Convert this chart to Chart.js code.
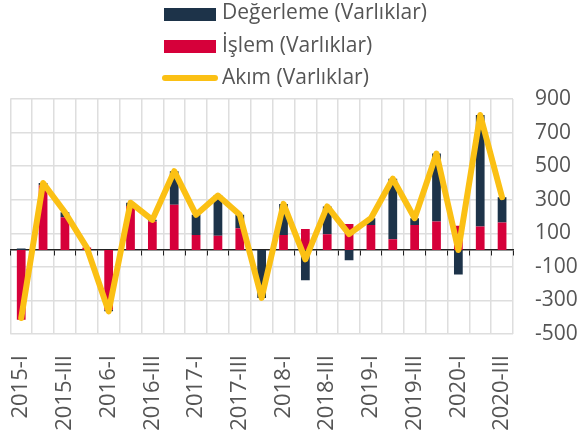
<!DOCTYPE html>
<html>
<head>
<meta charset="utf-8">
<script src="https://cdn.jsdelivr.net/npm/chart.js@4/dist/chart.umd.min.js"></script>
<style>
html,body{margin:0;padding:0;background:#fff;}
#wrap{position:relative;width:577px;height:432px;overflow:hidden;}
#c{position:absolute;left:0;top:0;}
.lg{position:absolute;font-family:'Open Sans',sans-serif;font-size:21px;color:#555;line-height:21px;white-space:nowrap;}
.sw{position:absolute;}
</style>
</head>
<body>
<div id="wrap">
<canvas id="c" width="577" height="432"></canvas>
<div class="sw" style="left:164px;top:8px;width:52px;height:13px;background:#1d3349"></div>
<div class="lg" style="left:222px;top:1px">Değerleme (Varlıklar)</div>
<div class="sw" style="left:164px;top:40px;width:52px;height:13px;background:#d6003a"></div>
<div class="lg" style="left:222px;top:34px">İşlem (Varlıklar)</div>
<div class="sw" style="left:162px;top:75px;width:56px;height:6px;border-radius:3px;background:#fbc014"></div>
<div class="lg" style="left:222px;top:66px">Akım (Varlıklar)</div>
</div>
<script>
const categories = ['2015-I','2015-II','2015-III','2015-IV','2016-I','2016-II','2016-III','2016-IV','2017-I','2017-II','2017-III','2017-IV','2018-I','2018-II','2018-III','2018-IV','2019-I','2019-II','2019-III','2019-IV','2020-I','2020-II','2020-III'];
const islem = [-415, 385, 195, 15, -355, 262, 170, 270, 90, 85, 130, 0, 90, 125, 95, 155, 150, 65, 150, 170, 145, 140, 165];
const degerleme = [10, 15, 30, 0, -10, 20, 10, 200, 120, 240, 80, -285, 185, -180, 165, -60, 40, 360, 40, 405, -145, 665, 150];
const akim = [-405, 400, 225, 15, -365, 282, 180, 470, 210, 325, 210, -285, 275, -55, 260, 95, 190, 425, 190, 575, 0, 805, 315];
const yMin = -500, yMax = 900, yStep = 200;

const NAVY = '#1d3349', RED = '#d6003a', YELLOW = '#fbc014';
const GRID = '#dedede', TEXT = '#555555';

Chart.defaults.font.family = "'Open Sans', sans-serif";
Chart.defaults.font.size = 21;
Chart.defaults.color = TEXT;

new Chart(document.getElementById('c'), {
  type: 'bar',
  data: {
    labels: categories,
    datasets: [
      { type: 'line', label: 'Akım (Varlıklar)', data: akim, borderColor: YELLOW, backgroundColor: YELLOW,
        borderWidth: 6, pointRadius: 0, pointHoverRadius: 0, tension: 0, fill: false,
        borderJoinStyle: 'round', borderCapStyle: 'round', stack: 'akim' },
      { label: 'İşlem (Varlıklar)', data: islem, backgroundColor: RED, stack: 'bars',
        barPercentage: 0.4, categoryPercentage: 1 },
      { label: 'Değerleme (Varlıklar)', data: degerleme, backgroundColor: NAVY, stack: 'bars',
        barPercentage: 0.4, categoryPercentage: 1 }
    ]
  },
  options: {
    responsive: false,
    animation: false,
    layout: { padding: { top: 99, left: 10, right: 0, bottom: 0 } },
    plugins: { legend: { display: false }, tooltip: { enabled: false } },
    scales: {
      x: {
        stacked: true,
        offset: true,
        grid: { color: GRID, lineWidth: 1.5, drawTicks: false, offset: true },
        border: { display: false },
        afterFit: s => { s.height = 98; },
        ticks: {
          autoSkip: false, minRotation: 90, maxRotation: 90, padding: 21, color: TEXT,
          font: { size: 22 },
          callback: (v, i) => (i % 2 === 0 ? categories[i] : '')
        }
      },
      x2: {
        type: 'category',
        labels: categories,
        position: { y: 0 },
        offset: true,
        grid: { drawOnChartArea: false, drawTicks: true, tickLength: 5, color: '#222', lineWidth: 1, offset: true },
        border: { display: true, color: '#222', width: 1.5 },
        ticks: { display: false }
      },
      y: {
        stacked: true,
        position: 'right',
        min: yMin, max: yMax,
        grid: { color: GRID, lineWidth: 1.5, drawTicks: false },
        border: { display: false },
        afterFit: s => { s.width = 64; },
        ticks: { stepSize: yStep, padding: 22, color: TEXT }
      }
    }
  }
});
</script>
</body>
</html>
